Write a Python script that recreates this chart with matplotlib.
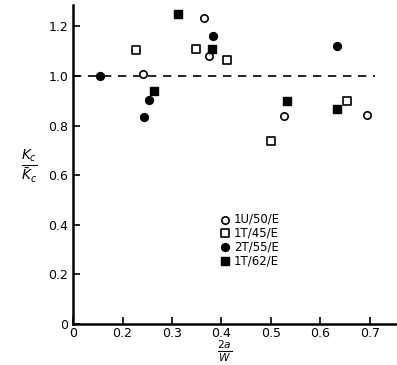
import matplotlib
matplotlib.use("Agg")
import matplotlib.pyplot as plt

# ratio Kc/Kc_bar vs 2a/W for four specimen series
x_1u50 = [0.242, 0.365, 0.375, 0.527, 0.695]
y_1u50 = [1.009, 1.232, 1.080, 0.839, 0.843]

x_1t45 = [0.227, 0.348, 0.412, 0.501, 0.653]
y_1t45 = [1.103, 1.110, 1.063, 0.736, 0.900]

x_2t55 = [0.155, 0.243, 0.253, 0.383, 0.633]
y_2t55 = [1.000, 0.833, 0.902, 1.162, 1.122]

x_1t62 = [0.264, 0.313, 0.381, 0.532, 0.633]
y_1t62 = [0.940, 1.248, 1.110, 0.900, 0.865]

xticks = [0.1, 0.2, 0.3, 0.4, 0.5, 0.6, 0.7]
xticklabels = ["0", "0.2", "0.3", "0.4", "0.5", "0.6", "0.7"]
yticks = [0, 0.2, 0.4, 0.6, 0.8, 1.0, 1.2]
yticklabels = ["0", "0.2", "0.4", "0.6", "0.8", "1.0", "1.2"]

fig = plt.figure(figsize=(3.97, 3.65), dpi=100)
ax = fig.add_axes([0.184, 0.112, 0.816, 0.874])

ax.plot([0.1, 0.71], [1.0, 1.0], ls=(0, (5, 4)), color="black", lw=1.2)

ax.scatter(x_1u50, y_1u50, marker="o", s=28, facecolors="white", edgecolors="black", lw=1.2, label="1U/50/E", zorder=3)
ax.scatter(x_1t45, y_1t45, marker="s", s=32, facecolors="white", edgecolors="black", lw=1.2, label="1T/45/E", zorder=3)
ax.scatter(x_2t55, y_2t55, marker="o", s=32, color="black", label="2T/55/E", zorder=3)
ax.scatter(x_1t62, y_1t62, marker="s", s=32, color="black", label="1T/62/E", zorder=3)

ax.set_xlim(0.1, 0.755)
ax.set_ylim(0, 1.285)
ax.set_xticks(xticks)
ax.set_xticklabels(xticklabels)
ax.set_yticks(yticks)
ax.set_yticklabels(yticklabels)
ax.tick_params(direction="in", length=5, width=1.2, labelsize=9)
ax.tick_params(axis="x", pad=2)
for s in ["top", "right"]:
    ax.spines[s].set_visible(False)
for s in ["left", "bottom"]:
    ax.spines[s].set_linewidth(1.8)

ax.legend(loc="upper left", bbox_to_anchor=(0.435, 0.368), frameon=False,
          fontsize=8.5, handletextpad=0.4, labelspacing=0.08, borderpad=0,
          handlelength=0.8)

fig.text(0.075, 0.545, r"$\frac{K_c}{\bar{K}_c}$", fontsize=14, ha="center", va="center")
fig.text(0.565, 0.002, r"$\frac{2a}{W}$", fontsize=11, ha="center", va="bottom")

fig.savefig("out.png", dpi=100)
